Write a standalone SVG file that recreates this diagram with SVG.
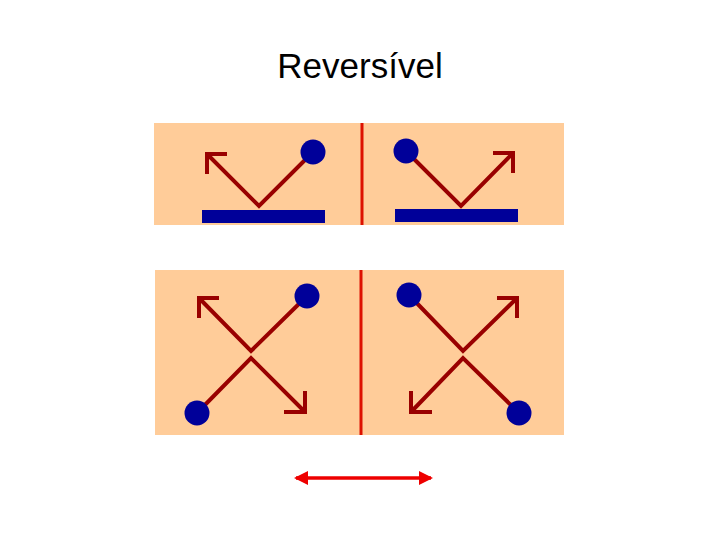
<svg xmlns="http://www.w3.org/2000/svg" width="720" height="540" viewBox="0 0 720 540">
<style>
.panel{fill:#FFCC99}
.div{stroke:#DD1100;stroke-width:3}
.ray{fill:none;stroke:#990000;stroke-width:4;stroke-linecap:butt;stroke-linejoin:miter}
.ball{fill:#000099}
.bar{fill:#000099}
.title{font-family:"Liberation Sans",Arial,sans-serif;font-size:35px;fill:#000}
</style>
<defs>
<marker id="ah" viewBox="0 0 14 14" refX="12" refY="7" markerWidth="14" markerHeight="14" markerUnits="userSpaceOnUse" orient="auto-start-reverse">
<path d="M0,0 L14,7 L0,14 z" fill="#EE0000"/>
</marker>
</defs>
<rect width="720" height="540" fill="#fff"/>
<text class="title" x="360" y="78" text-anchor="middle">Reversível</text>

<g id="top-panel">
<rect class="panel" x="154" y="123" width="410" height="102"/>
</g>
<g id="bottom-panel">
<rect class="panel" x="155" y="270" width="409" height="165"/>
</g>

<g id="top-left">
<rect class="bar" x="202" y="210" width="123" height="13"/>
<polyline class="ray" points="313,152 259,206 207,154"/>
<polyline class="ray" points="227,154 207,154 207,174"/>
<circle class="ball" cx="313" cy="152" r="12.5"/>
</g>
<g id="top-right">
<rect class="bar" x="395" y="209" width="123" height="13"/>
<polyline class="ray" points="406,151 461,206 513,153"/>
<polyline class="ray" points="493,153 513,153 513,173"/>
<circle class="ball" cx="406" cy="151" r="12.5"/>
</g>

<g id="bottom-left">
<polyline class="ray" points="307,296 251,351 199,298"/>
<polyline class="ray" points="219,298 199,298 199,318"/>
<polyline class="ray" points="197,413 251,358 305,412"/>
<polyline class="ray" points="284,412 305,412 305,391"/>
<circle class="ball" cx="307" cy="296" r="12.5"/>
<circle class="ball" cx="197" cy="413" r="12.5"/>
</g>
<g id="bottom-right">
<polyline class="ray" points="409,295 463,351 517,298"/>
<polyline class="ray" points="497,298 517,298 517,318"/>
<polyline class="ray" points="519,413 463,358 411,412"/>
<polyline class="ray" points="432,412 411,412 411,391"/>
<circle class="ball" cx="409" cy="295" r="12.5"/>
<circle class="ball" cx="519" cy="413" r="12.5"/>
</g>

<g id="connectors">
<line class="div" x1="362" y1="123" x2="362" y2="225"/>
<line class="div" x1="361" y1="270" x2="361" y2="435"/>
<line x1="296" y1="478" x2="431" y2="478" stroke="#EE0000" stroke-width="3.5" marker-start="url(#ah)" marker-end="url(#ah)"/>
</g>
</svg>
